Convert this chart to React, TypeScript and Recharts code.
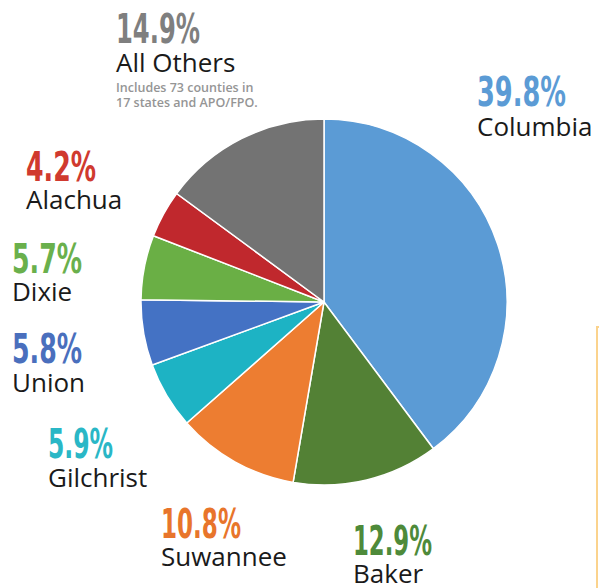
import { PieChart, Pie, Cell } from "recharts";

const COUNTIES = ["Columbia", "Baker", "Suwannee", "Gilchrist", "Union", "Dixie", "Alachua", "All Others"];
const SHARES = [39.8, 12.9, 10.8, 5.9, 5.8, 5.7, 4.2, 14.9];
const COLORS = ["#5b9bd5", "#538135", "#ed7d31", "#1db3c4", "#4472c4", "#6aaf45", "#c0282d", "#737373"];
const PCT_COLORS = ["#5b9bd5", "#4e8a3a", "#e8752b", "#2ab7c6", "#4a6fbd", "#6ab04c", "#d03a2f", "#7f7f7f"];
const OTHERS_NOTE = ["Includes 73 counties in", "17 states and APO/FPO."];

// label anchors: left x, percent baseline, name baseline, percent width
const LABEL_POS = [
  { x: 477, py: 106, ny: 136, w: 89 },
  { x: 353, py: 555, ny: 583, w: 79 },
  { x: 161, py: 538, ny: 566, w: 80 },
  { x: 48, py: 458, ny: 487, w: 65 },
  { x: 12, py: 363, ny: 392, w: 70 },
  { x: 12, py: 273, ny: 301, w: 70 },
  { x: 26, py: 181, ny: 209, w: 70 },
  { x: 116, py: 43, ny: 72, w: 84 },
];

const data = COUNTIES.map((name, i) => ({ name, value: SHARES[i] }));

const PCT_FONT = "'DejaVu Sans Condensed', 'Liberation Sans Narrow', sans-serif";
const NAME_FONT = "'Open Sans', 'Noto Sans', sans-serif";

export default function App() {
  return (
    <div style={{ position: "absolute", left: 0, top: 0, width: 599, height: 588, background: "#fff", overflow: "hidden" }}>
      <PieChart width={599} height={588} margin={{ top: 0, right: 0, bottom: 0, left: 0 }}>
        <Pie
          data={data}
          dataKey="value"
          nameKey="name"
          cx={324}
          cy={302}
          outerRadius={183}
          startAngle={90}
          endAngle={-270}
          stroke="#ffffff"
          strokeWidth={1.5}
          isAnimationActive={false}
        >
          {data.map((_, i) => (
            <Cell key={i} fill={COLORS[i]} />
          ))}
        </Pie>
      </PieChart>

      <svg width={599} height={588} style={{ position: "absolute", left: 0, top: 0 }}>
        {data.map((d, i) => {
          const p = LABEL_POS[i];
          return (
            <g key={d.name}>
              <text
                x={p.x}
                y={p.py}
                fill={PCT_COLORS[i]}
                fontFamily={PCT_FONT}
                fontWeight="bold"
                fontSize={41}
                textLength={p.w}
                lengthAdjust="spacingAndGlyphs"
              >
                {d.value.toFixed(1)}%
              </text>
              <text x={p.x} y={p.ny} fill="#1a1a1a" fontFamily={NAME_FONT} fontSize={26}>
                {d.name}
              </text>
            </g>
          );
        })}
        {OTHERS_NOTE.map((line, i) => (
          <text key={line} x={116} y={92 + i * 15} fill="#959595" fontFamily={NAME_FONT} fontWeight={600} fontSize={12.5}>
            {line}
          </text>
        ))}
        <path d="M597 588 V327 H599" fill="none" stroke="#fbd38d" strokeWidth={2} />
      </svg>
    </div>
  );
}
